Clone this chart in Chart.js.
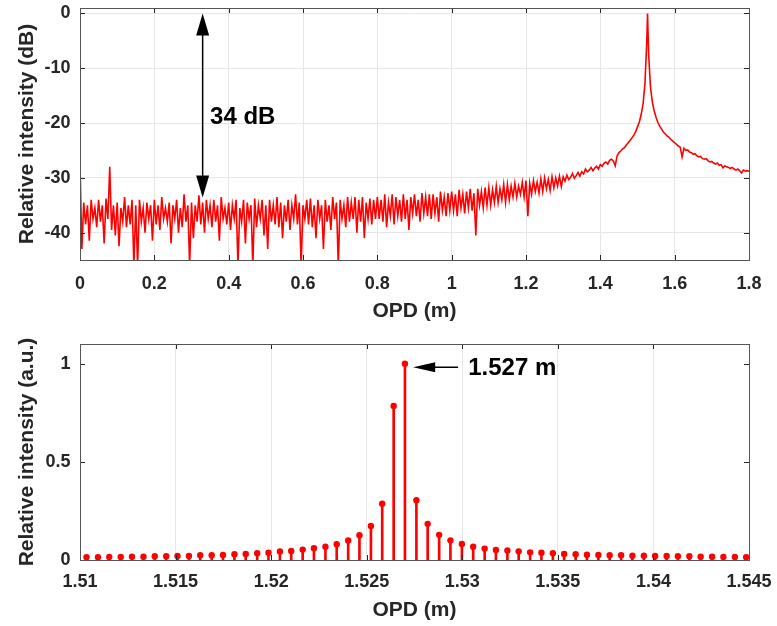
<!DOCTYPE html>
<html>
<head>
<meta charset="utf-8">
<script src="https://cdn.jsdelivr.net/npm/chart.js@4.4.1/dist/chart.umd.min.js"></script>
<style>
  html, body { margin: 0; padding: 0; background: #fff; }
  #wrap { position: relative; width: 777px; height: 626px; }
  canvas { position: absolute; left: 0; }
  #topChart { top: 0; }
  #bottomChart { top: 326px; }
</style>
</head>
<body>
<div id="wrap">
  <canvas id="topChart" width="777" height="325"></canvas>
  <canvas id="bottomChart" width="777" height="300"></canvas>
</div>
<script>
// --- top panel: spectrum in dB, sampled every 0.005 m from 0 to 1.8 m ---
const opdStep = 0.005;
const dbTop = [
  -27.5, -43, -34.5, -38.5, -35, -41.5, -34, -37.5, -35.5, -39,
  -34, -38, -35, -42, -33.8, -37.5, -28, -39.5, -35, -40.5,
  -34.5, -42.5, -35.5, -38, -33.5, -39, -35, -38.5, -34, -46,
  -35, -46, -34, -38, -35.5, -40, -34.5, -37.5, -35, -41.5,
  -34, -38.5, -35, -39.5, -33.5, -37.5, -35.5, -38, -34.5, -42,
  -35, -37.5, -34, -40, -35.5, -39, -33, -38, -35, -46,
  -34.5, -41, -35, -38, -33.2, -38.5, -34.5, -40, -34, -37.5,
  -35, -39, -34, -38, -35, -41.5, -33.5, -37.5, -35.5, -38.5,
  -34.5, -39.5, -35, -37.5, -34, -46, -35.5, -38, -34, -42,
  -34.5, -37.5, -35, -46, -33.8, -39, -35, -37.5, -34, -40.5,
  -35, -43, -34, -38, -35, -38.5, -33.5, -39, -34.5, -41,
  -35, -38, -34, -39.5, -35, -37.5, -33, -38.5, -34.5, -46,
  -35, -37.5, -34, -38.5, -33.8, -39, -35, -41, -34, -37.5,
  -35, -43, -34, -38, -35, -39.5, -33.5, -37.5, -34.5, -46,
  -34, -37.5, -35, -39, -33.5, -38, -34.5, -37.5, -33.5, -40,
  -34, -38, -33.5, -41, -34.5, -37.5, -33.8, -38.5, -34, -37.5,
  -33.5, -37.5, -34, -38, -33, -39, -34.5, -37, -33, -38.5,
  -33.5, -37, -34, -38, -33, -37.5, -34, -39.5, -33.5, -36.5,
  -33, -37, -34, -38, -32.8, -36.5, -33.5, -37, -33, -37.5,
  -33, -36.5, -33.5, -38, -32.5, -36, -33.5, -37, -32.8, -36,
  -32.5, -36, -33, -37, -32.2, -35.5, -33, -36.5, -32.5, -35.5,
  -32, -36, -32.8, -40.5, -32, -35, -32.5, -35.5, -31.8, -35,
  -31.8, -35, -32.2, -34.5, -31.5, -34.5, -32, -34, -31.2, -34.5,
  -31.2, -34, -31.5, -33.5, -31, -33.5, -31.5, -33, -30.8, -33.5,
  -30.5, -37, -31, -33, -30.5, -32.5, -30.8, -32.8, -30.2, -32.5,
  -30, -32, -30.3, -32.3, -29.8, -31.8, -30, -31.5, -29.7, -31.6,
  -29.8, -30.6, -29.5, -30.3, -29.9, -29.2, -30.1, -29.6, -29, -29.7,
  -28.9, -29.3, -28.4, -28.9, -28.6, -28.1, -28.7, -28.2, -27.9, -28.4,
  -27.6, -27.9, -27.3, -27.1, -27.5, -26.8, -26.6, -26.9, -27.8, -26,
  -25.4, -25.1, -24.7, -24.5, -24, -23.6, -23.2, -22.7, -22.2, -21.6,
  -20.7, -19.8, -18.4, -16.5, -12.8, -5, -7.5, -13.5, -16.2, -17.8,
  -19, -19.9, -20.6, -21.1, -21.7, -22, -22.4, -22.6, -23, -23.3,
  -23.6, -23.9, -24.2, -24.4, -26.2, -24.6, -25, -24.9, -25.3, -25.4,
  -25.7, -25.6, -26, -26.2, -26.1, -26.5, -26.6, -26.5, -26.9, -27.1,
  -27, -27.3, -27.5, -27.3, -27.7, -27.6, -28.2, -27.8, -28, -28.1,
  -28.3, -28.1, -28.4, -28.6, -28.4, -28.7, -29.1, -28.6, -28.8, -28.7,
  -28.8
];
const peakOpd = 1.527;
const peakDb = 0;
const topXTicks = [0, 0.2, 0.4, 0.6, 0.8, 1, 1.2, 1.4, 1.6, 1.8];
const topYTicks = [-40, -30, -20, -10, 0];

// --- bottom panel: stems around the peak ---
const stemOpd = [
  1.51034, 1.51094, 1.51153, 1.51213, 1.51272, 1.51332, 1.51391, 1.51451, 1.5151, 1.5157,
  1.51629, 1.51689, 1.51748, 1.51808, 1.51867, 1.51927, 1.51986, 1.52046, 1.52105, 1.52165,
  1.52224, 1.52284, 1.52343, 1.52403, 1.52462, 1.52522, 1.52581, 1.52641, 1.527, 1.5276,
  1.52819, 1.52879, 1.52938, 1.52998, 1.53057, 1.53117, 1.53176, 1.53236, 1.53295, 1.53355,
  1.53414, 1.53474, 1.53533, 1.53593, 1.53652, 1.53712, 1.53771, 1.53831, 1.5389, 1.5395,
  1.54009, 1.54069, 1.54128, 1.54188, 1.54247, 1.54307, 1.54366, 1.54426, 1.54485
];
const stemValue = [
  0.014, 0.014, 0.015, 0.015, 0.017, 0.017, 0.019, 0.019, 0.020, 0.020,
  0.024, 0.024, 0.026, 0.029, 0.031, 0.034, 0.037, 0.043, 0.046, 0.053,
  0.060, 0.068, 0.080, 0.099, 0.126, 0.173, 0.287, 0.784, 1, 0.304,
  0.184, 0.128, 0.100, 0.082, 0.068, 0.058, 0.051, 0.048, 0.044, 0.039,
  0.037, 0.034, 0.031, 0.029, 0.027, 0.026, 0.024, 0.024, 0.022, 0.022,
  0.020, 0.020, 0.019, 0.019, 0.017, 0.017, 0.015, 0.015, 0.014
];
const bottomXTicks = [1.51, 1.515, 1.52, 1.525, 1.53, 1.535, 1.54, 1.545];
const bottomYTicks = [0, 0.5, 1];

const RED = '#ff0000';
const INK = '#262626';
const GRID = '#e6e6e6';
const FONT = "'Liberation Sans', Arial, sans-serif";

// build {x,y} points for the top line, with the peak sample put in its place
const topPoints = [];
dbTop.forEach((v, i) => {
    const x = +(i * opdStep).toFixed(4);
    if (x > peakOpd && topPoints.length && topPoints[topPoints.length - 1].x < peakOpd) {
        topPoints.push({ x: peakOpd, y: peakDb });
    }
    topPoints.push({ x: x, y: v });
});

const stemPoints = stemOpd.map((x, i) => ({ x: x, y: stemValue[i] }));

function fixTicks(list) {
    return scale => { scale.ticks = list.map(v => ({ value: v })); };
}

// keep the plot box where the reference has it, whatever the label widths
function fixBox(size) {
    return s => {
        if (s.isHorizontal()) s.height = size; else s.width = size;
        s.paddingLeft = 0; s.paddingRight = 0; s.paddingTop = 0; s.paddingBottom = 0;
    };
}

function drawArrowHead(ctx, tipX, tipY, fromX, fromY, len, half) {
    const a = Math.atan2(tipY - fromY, tipX - fromX);
    ctx.beginPath();
    ctx.moveTo(tipX, tipY);
    ctx.lineTo(tipX - len * Math.cos(a) + half * Math.sin(a), tipY - len * Math.sin(a) - half * Math.cos(a));
    ctx.lineTo(tipX - len * Math.cos(a) - half * Math.sin(a), tipY - len * Math.sin(a) + half * Math.cos(a));
    ctx.closePath();
    ctx.fill();
}

// box round the plot area with short inner ticks on every side
const boxPlugin = {
    id: 'box',
    afterDatasetsDraw(chart) {
        const { ctx, chartArea: a, scales } = chart;
        ctx.save();
        ctx.strokeStyle = INK;
        ctx.lineWidth = 1;
        ctx.beginPath();
        scales.x.ticks.forEach(t => {
            const px = Math.round(scales.x.getPixelForValue(t.value)) + 0.5;
            ctx.moveTo(px, a.bottom); ctx.lineTo(px, a.bottom - 5);
            ctx.moveTo(px, a.top); ctx.lineTo(px, a.top + 5);
        });
        scales.y.ticks.forEach(t => {
            const py = Math.round(scales.y.getPixelForValue(t.value)) + 0.5;
            ctx.moveTo(a.left, py); ctx.lineTo(a.left + 5, py);
            ctx.moveTo(a.right, py); ctx.lineTo(a.right - 5, py);
        });
        ctx.stroke();
        ctx.strokeStyle = '#555';
        ctx.strokeRect(Math.round(a.left) + 0.5, Math.round(a.top) + 0.5,
            Math.round(a.right - a.left), Math.round(a.bottom - a.top));
        ctx.restore();
    }
};

// "34 dB" double arrow on the top panel
const topNotePlugin = {
    id: 'topNote',
    afterDraw(chart) {
        const { ctx, scales: { x, y } } = chart;
        const ax = x.getPixelForValue(0.33);
        const y1 = y.getPixelForValue(0);
        const y2 = y.getPixelForValue(-33.6);
        ctx.save();
        ctx.strokeStyle = '#000';
        ctx.fillStyle = '#000';
        ctx.lineWidth = 1.5;
        ctx.beginPath();
        ctx.moveTo(ax, y1 + 10);
        ctx.lineTo(ax, y2 - 10);
        ctx.stroke();
        drawArrowHead(ctx, ax, y1, ax, y2, 22, 6.5);
        drawArrowHead(ctx, ax, y2, ax, y1, 22, 6.5);
        ctx.font = 'bold 24px ' + FONT;
        ctx.textBaseline = 'middle';
        ctx.textAlign = 'left';
        ctx.fillText('34 dB', x.getPixelForValue(0.35), y.getPixelForValue(-19));
        ctx.restore();
    }
};

// "1.527 m" arrow on the bottom panel
const bottomNotePlugin = {
    id: 'bottomNote',
    afterDraw(chart) {
        const { ctx, scales: { x, y } } = chart;
        const tipX = x.getPixelForValue(1.52743);
        const tailX = x.getPixelForValue(1.52978);
        const ay = y.getPixelForValue(0.981);
        ctx.save();
        ctx.strokeStyle = '#000';
        ctx.fillStyle = '#000';
        ctx.lineWidth = 1.5;
        ctx.beginPath();
        ctx.moveTo(tipX + 10, ay);
        ctx.lineTo(tailX, ay);
        ctx.stroke();
        drawArrowHead(ctx, tipX, ay, tailX, ay, 22, 5);
        ctx.font = 'bold 24px ' + FONT;
        ctx.textBaseline = 'middle';
        ctx.textAlign = 'left';
        ctx.fillText('1.527 m', x.getPixelForValue(1.53031), y.getPixelForValue(0.974));
        ctx.restore();
    }
};

const tickFont = { family: FONT, size: 18, weight: 'bold' };
const titleFont = { family: FONT, size: 21, weight: 'bold' };
const plainNumber = digits => v => String(+Number(v).toFixed(digits));

new Chart(document.getElementById('topChart'), {
    type: 'line',
    data: {
        datasets: [{
            data: topPoints,
            borderColor: RED,
            borderWidth: 1.6,
            pointRadius: 0,
            tension: 0,
            fill: false
        }]
    },
    options: {
        responsive: false,
        animation: false,
        layout: { padding: { top: 8, right: 28, left: 0, bottom: 0 } },
        plugins: { legend: { display: false }, tooltip: { enabled: false } },
        scales: {
            x: {
                type: 'linear',
                min: 0,
                max: 1.8,
                afterBuildTicks: fixTicks(topXTicks),
                afterFit: fixBox(65),
                grid: { color: GRID, drawTicks: false },
                border: { display: false },
                ticks: { color: INK, font: tickFont, padding: 13, maxRotation: 0, callback: plainNumber(2) },
                title: { display: true, text: 'OPD (m)', color: INK, font: titleFont,
                    padding: { top: 0, bottom: 1.4 } }
            },
            y: {
                min: -45,
                max: 1,
                afterBuildTicks: fixTicks(topYTicks),
                afterFit: fixBox(80),
                grid: { color: GRID, drawTicks: false },
                border: { display: false },
                ticks: { color: INK, font: tickFont, padding: 9.5, callback: plainNumber(1) },
                title: { display: true, text: 'Relative intensity (dB)', color: INK, font: titleFont,
                    padding: { top: 14.4, bottom: 0 } }
            }
        }
    },
    plugins: [boxPlugin, topNotePlugin]
});

new Chart(document.getElementById('bottomChart'), {
    type: 'bar',
    data: {
        datasets: [
            {
                type: 'scatter',
                data: stemPoints,
                order: 0,
                pointRadius: 3.2,
                pointBackgroundColor: RED,
                pointBorderColor: RED,
                pointBorderWidth: 0,
                showLine: false
            },
            {
                type: 'bar',
                data: stemPoints,
                order: 1,
                backgroundColor: RED,
                barThickness: 2,
                grouped: false
            }
        ]
    },
    options: {
        responsive: false,
        animation: false,
        layout: { padding: { top: 18, right: 28, left: 0, bottom: 0 } },
        plugins: { legend: { display: false }, tooltip: { enabled: false } },
        scales: {
            x: {
                type: 'linear',
                min: 1.51,
                max: 1.545,
                offset: false,
                afterBuildTicks: fixTicks(bottomXTicks),
                afterFit: fixBox(66),
                grid: { color: GRID, drawTicks: false, offset: false },
                border: { display: false },
                ticks: { color: INK, font: tickFont, padding: 11, maxRotation: 0, callback: plainNumber(3) },
                title: { display: true, text: 'OPD (m)', color: INK, font: titleFont,
                    padding: { top: 0, bottom: 2.9 } }
            },
            y: {
                min: 0,
                max: 1.1,
                afterBuildTicks: fixTicks(bottomYTicks),
                afterFit: fixBox(80),
                grid: { display: false, drawTicks: false },
                border: { display: false },
                ticks: { color: INK, font: tickFont, padding: 9.5, callback: plainNumber(2) },
                title: { display: true, text: 'Relative intensity (a.u.)', color: INK, font: titleFont,
                    padding: { top: 14.4, bottom: 0 } }
            }
        }
    },
    plugins: [boxPlugin, bottomNotePlugin]
});
</script>
</body>
</html>
